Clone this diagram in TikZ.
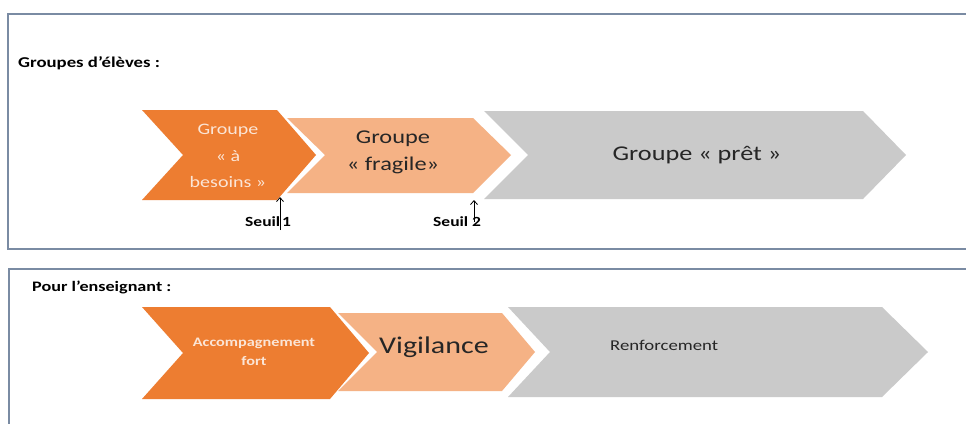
\documentclass[tikz,border=0pt]{standalone}
\usepackage{fontspec}
\setmainfont{Carlito}
\usetikzlibrary{arrows.meta}
\definecolor{orangeA}{HTML}{ED7D31}
\definecolor{orangeB}{HTML}{F5B285}
\definecolor{grayC}{HTML}{CACACA}
\definecolor{frameC}{HTML}{7A8BA3}
\definecolor{creamT}{HTML}{FBE5D6}
\definecolor{darkT}{HTML}{262626}
\newcommand\hwide[1]{\scalebox{1.25}[1]{#1}}
\tikzset{
  panel/.style={draw=frameC, line width=1.1pt, fill=white},
  chevA/.style={fill=orangeA},
  chevB/.style={fill=orangeB},
  chevC/.style={fill=grayC},
  lbl/.style={inner sep=0pt, text=black},
  seuilarrow/.style={line width=0.8pt, -{Straight Barb[length=4pt,width=7pt]}}
}
\begin{document}
\begin{tikzpicture}[x=1pt,y=-1pt]
\useasboundingbox (0,0) rectangle (966,423);
\fill[white] (0,0) rectangle (966,423);
% panels
\draw[panel] (8,14) rectangle (975,249);
\draw[panel] (9,269) rectangle (975,440);

% ---- top row chevrons
\fill[chevC] (484,111) -- (863,111) -- (906,155) -- (863,199) -- (484,199) -- (528,155) -- cycle;
\fill[chevB] (287,118) -- (473,118) -- (511,155) -- (473,193) -- (287,193) -- (325,155) -- cycle;
\fill[chevA] (142,110) -- (277,110) -- (316,155) -- (277,200) -- (142,200) -- (183,155) -- cycle;

\node[lbl, anchor=west] (titre1) at (18,63) {\fontsize{15}{18}\selectfont\bfseries\hwide{Groupes d’élèves :}};

\node[lbl, text=creamT] (g1) at (228,156) {\fontsize{16}{26.5}\selectfont\hwide{\begin{tabular}{@{}c@{}}Groupe\\« à\\besoins »\end{tabular}}};
\node[lbl, text=darkT] (g2) at (393,152) {\fontsize{19.5}{27}\selectfont\hwide{\begin{tabular}{@{}c@{}}Groupe\\« fragile»\end{tabular}}};
\node[lbl, text=darkT] (g3) at (697,155) {\fontsize{21}{24}\selectfont\hwide{Groupe « prêt »}};

\node[lbl, anchor=west] (s1) at (245,222) {\fontsize{14}{16}\selectfont\bfseries\hwide{Seuil\hspace{1.5pt}1}};
\node[lbl, anchor=west] (s2) at (433,222) {\fontsize{14}{16}\selectfont\bfseries\hwide{Seuil\hspace{3pt}2}};
\coordinate (s1bot) at (280,230);
\coordinate (s1top) at (280,197);
\coordinate (s2bot) at (474,222);
\coordinate (s2top) at (474,200);
\draw[seuilarrow] (s1bot) -- (s1top);
\draw[seuilarrow] (s2bot) -- (s2top);

% ---- bottom row chevrons
\node[lbl, anchor=west] (titre2) at (32,287) {\fontsize{14.5}{17}\selectfont\bfseries\hwide{Pour l’enseignant :}};

\fill[chevC] (508,307) -- (882,307) -- (928,352) -- (882,397) -- (508,397) -- (550,352) -- cycle;
\fill[chevB] (338,313) -- (502,313) -- (535,352) -- (502,391) -- (338,391) -- (377,352) -- cycle;
\fill[chevA] (142,307) -- (330,307) -- (369,353) -- (330,399) -- (142,399) -- (183,353) -- cycle;

\node[lbl, text=creamT] (a1) at (254,352) {\fontsize{13}{19}\selectfont\bfseries\hwide{\begin{tabular}{@{}c@{}}Accompagnement\\fort\end{tabular}}};
\node[lbl, text=darkT] (a2) at (434,347) {\fontsize{24}{28}\selectfont\hwide{Vigilance}};
\node[lbl, text=darkT, anchor=west] (a3) at (610,345) {\fontsize{15}{18}\selectfont\hwide{Renforcement}};
\end{tikzpicture}
\end{document}
